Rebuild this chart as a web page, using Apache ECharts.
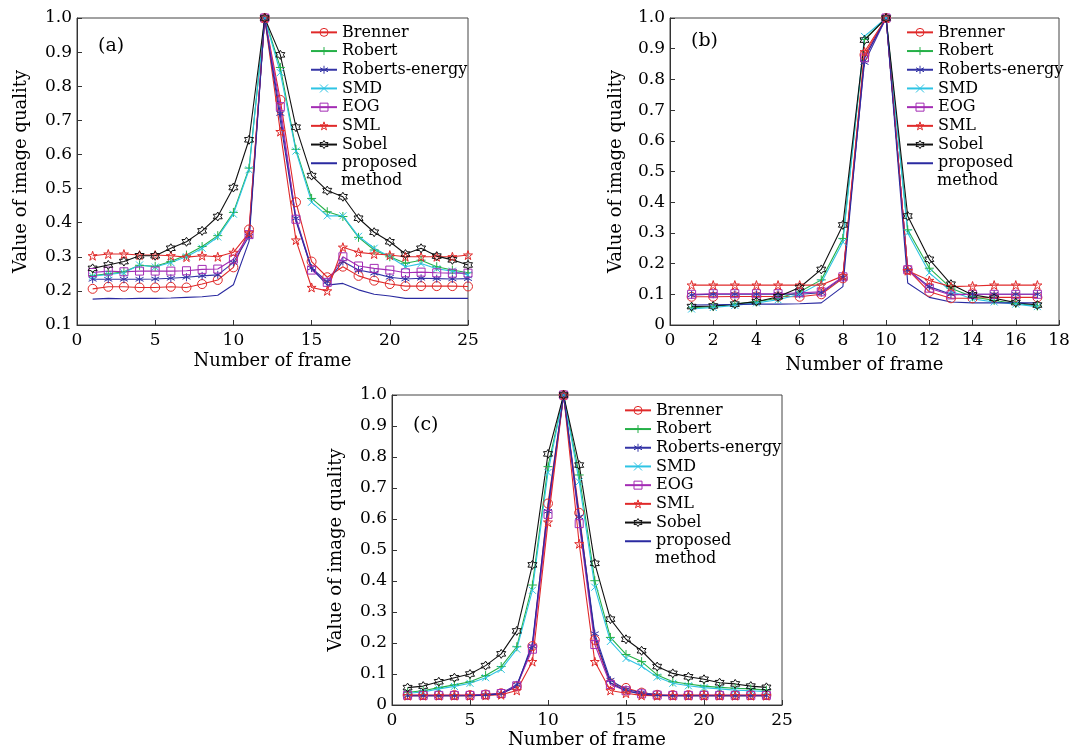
<!DOCTYPE html>
<html>
<head>
<meta charset="utf-8">
<script src="https://cdn.jsdelivr.net/npm/echarts@6/dist/echarts.min.js"></script>
<style>
  html, body { margin: 0; padding: 0; background: #fff; }
  #chart { width: 1074px; height: 751px; }
</style>
</head>
<body>
<div id="chart"></div>
<script>
// frames for each panel
var framesA = [1, 2, 3, 4, 5, 6, 7, 8, 9, 10, 11, 12, 13, 14, 15, 16, 17, 18, 19, 20, 21, 22, 23, 24, 25]
var framesB = [1, 2, 3, 4, 5, 6, 7, 8, 9, 10, 11, 12, 13, 14, 15, 16, 17]
var framesC = [1, 2, 3, 4, 5, 6, 7, 8, 9, 10, 11, 12, 13, 14, 15, 16, 17, 18, 19, 20, 21, 22, 23, 24]

// panel (a)
var brennerA = [0.206, 0.212, 0.212, 0.21, 0.21, 0.212, 0.21, 0.22, 0.232, 0.269, 0.38, 1.0, 0.76, 0.46, 0.286, 0.24, 0.271, 0.244, 0.23, 0.22, 0.214, 0.214, 0.214, 0.214, 0.213]
var robertA = [0.245, 0.25, 0.256, 0.275, 0.272, 0.286, 0.305, 0.33, 0.362, 0.43, 0.56, 1.0, 0.855, 0.615, 0.471, 0.432, 0.418, 0.357, 0.32, 0.30, 0.281, 0.29, 0.271, 0.261, 0.253]
var robertsEnergyA = [0.234, 0.234, 0.234, 0.234, 0.235, 0.237, 0.24, 0.244, 0.247, 0.283, 0.36, 1.0, 0.72, 0.413, 0.267, 0.227, 0.286, 0.261, 0.252, 0.24, 0.235, 0.237, 0.236, 0.235, 0.236]
var smdA = [0.243, 0.248, 0.253, 0.276, 0.27, 0.283, 0.3, 0.325, 0.358, 0.425, 0.555, 1.0, 0.84, 0.61, 0.46, 0.42, 0.42, 0.36, 0.325, 0.30, 0.271, 0.28, 0.265, 0.258, 0.247]
var eogA = [0.254, 0.258, 0.256, 0.258, 0.258, 0.258, 0.259, 0.263, 0.264, 0.293, 0.365, 1.0, 0.74, 0.41, 0.261, 0.225, 0.30, 0.273, 0.266, 0.261, 0.253, 0.255, 0.253, 0.252, 0.252]
var smlA = [0.303, 0.308, 0.308, 0.305, 0.305, 0.303, 0.299, 0.303, 0.30, 0.313, 0.37, 1.0, 0.667, 0.349, 0.21, 0.20, 0.328, 0.313, 0.308, 0.305, 0.30, 0.30, 0.30, 0.30, 0.305]
var sobelA = [0.266, 0.276, 0.286, 0.303, 0.303, 0.325, 0.344, 0.376, 0.418, 0.503, 0.643, 1.0, 0.892, 0.68, 0.538, 0.494, 0.476, 0.413, 0.372, 0.344, 0.308, 0.325, 0.302, 0.291, 0.276]
var proposedA = [0.176, 0.178, 0.177, 0.178, 0.178, 0.179, 0.181, 0.183, 0.187, 0.218, 0.345, 1.0, 0.7, 0.405, 0.266, 0.217, 0.222, 0.203, 0.19, 0.185, 0.178, 0.178, 0.178, 0.178, 0.178]

// panel (b)
var brennerB = [0.092, 0.092, 0.093, 0.093, 0.093, 0.092, 0.10, 0.152, 0.88, 1.0, 0.18, 0.108, 0.087, 0.087, 0.09, 0.09, 0.09]
var robertB = [0.056, 0.06, 0.068, 0.076, 0.087, 0.108, 0.147, 0.282, 0.93, 1.0, 0.31, 0.185, 0.12, 0.092, 0.08, 0.07, 0.062]
var robertsEnergyB = [0.098, 0.10, 0.10, 0.10, 0.10, 0.10, 0.105, 0.155, 0.855, 1.0, 0.18, 0.125, 0.10, 0.10, 0.10, 0.10, 0.10]
var smdB = [0.052, 0.057, 0.064, 0.072, 0.082, 0.10, 0.138, 0.27, 0.94, 1.0, 0.30, 0.17, 0.11, 0.085, 0.075, 0.068, 0.06]
var eogB = [0.10, 0.102, 0.102, 0.102, 0.102, 0.105, 0.108, 0.157, 0.87, 1.0, 0.18, 0.12, 0.098, 0.10, 0.10, 0.10, 0.10]
var smlB = [0.13, 0.13, 0.13, 0.13, 0.13, 0.13, 0.13, 0.16, 0.89, 1.0, 0.177, 0.145, 0.125, 0.127, 0.13, 0.13, 0.13]
var sobelB = [0.06, 0.062, 0.068, 0.076, 0.092, 0.122, 0.181, 0.326, 0.928, 1.0, 0.355, 0.214, 0.133, 0.098, 0.087, 0.073, 0.065]
var proposedB = [0.065, 0.066, 0.067, 0.068, 0.068, 0.069, 0.072, 0.125, 0.87, 1.0, 0.137, 0.09, 0.075, 0.072, 0.072, 0.072, 0.072]

// panel (c)
var brennerC = [0.032, 0.032, 0.032, 0.032, 0.032, 0.034, 0.038, 0.06, 0.19, 0.65, 1.0, 0.62, 0.21, 0.07, 0.055, 0.04, 0.033, 0.032, 0.032, 0.032, 0.032, 0.032, 0.032, 0.032]
var robertC = [0.041, 0.046, 0.056, 0.065, 0.075, 0.095, 0.124, 0.188, 0.387, 0.769, 1.0, 0.742, 0.401, 0.218, 0.163, 0.14, 0.097, 0.075, 0.068, 0.061, 0.057, 0.054, 0.052, 0.048]
var robertsEnergyC = [0.03, 0.03, 0.03, 0.03, 0.031, 0.033, 0.038, 0.065, 0.19, 0.625, 1.0, 0.607, 0.23, 0.08, 0.05, 0.04, 0.033, 0.03, 0.03, 0.03, 0.03, 0.03, 0.03, 0.03]
var smdC = [0.038, 0.042, 0.052, 0.06, 0.07, 0.088, 0.115, 0.18, 0.37, 0.75, 1.0, 0.72, 0.38, 0.205, 0.15, 0.125, 0.09, 0.07, 0.062, 0.056, 0.052, 0.048, 0.046, 0.043]
var eogC = [0.031, 0.031, 0.031, 0.031, 0.031, 0.033, 0.037, 0.062, 0.18, 0.615, 1.0, 0.585, 0.195, 0.066, 0.046, 0.036, 0.032, 0.031, 0.031, 0.031, 0.031, 0.031, 0.031, 0.031]
var smlC = [0.03, 0.03, 0.03, 0.03, 0.03, 0.031, 0.033, 0.047, 0.14, 0.59, 1.0, 0.52, 0.14, 0.047, 0.038, 0.031, 0.03, 0.03, 0.03, 0.03, 0.03, 0.03, 0.03, 0.03]
var sobelC = [0.056, 0.061, 0.075, 0.088, 0.10, 0.127, 0.165, 0.239, 0.452, 0.81, 1.0, 0.774, 0.457, 0.277, 0.212, 0.175, 0.124, 0.102, 0.091, 0.083, 0.072, 0.068, 0.061, 0.057]
var proposedC = [0.03, 0.03, 0.03, 0.03, 0.03, 0.032, 0.036, 0.06, 0.2, 0.64, 1.0, 0.6, 0.22, 0.072, 0.046, 0.035, 0.031, 0.03, 0.03, 0.03, 0.03, 0.03, 0.03, 0.03]

var names = ['Brenner', 'Robert', 'Roberts-energy', 'SMD', 'EOG', 'SML', 'Sobel', 'proposed method']

var FONT = 'DejaVu Serif'

// marker + colour per method
var looks = {
  'Brenner': { color: '#e02a2a', symbol: 'circle', size: 9 },
  'Robert': { color: '#25b048', symbol: 'path://M5,0L5,10M0,5L10,5', size: 9 },
  'Roberts-energy': { color: '#3434a6', symbol: 'path://M5,0L5,10M0.7,2.5L9.3,7.5M9.3,2.5L0.7,7.5', size: 8 },
  'SMD': { color: '#2ec4e4', symbol: 'path://M0,0L10,10M10,0L0,10', size: 7 },
  'EOG': { color: '#a32cb4', symbol: 'rect', size: 8 },
  'SML': { color: '#e02a2a', symbol: 'path://M5,0L6.2,3.6L10,3.6L6.9,5.9L8.1,9.5L5,7.3L1.9,9.5L3.1,5.9L0,3.6L3.8,3.6Z', size: 9 },
  'Sobel': { color: '#111111', symbol: 'path://M5,0L6.4,2.5L9.3,2.5L7.9,5L9.3,7.5L6.4,7.5L5,10L3.6,7.5L0.7,7.5L2.1,5L0.7,2.5L3.6,2.5Z', size: 9 },
  'proposed method': { color: '#2a2aa0', symbol: 'none', size: 0 }
}

function makeSeries(name, frames, values, idx) {
  var lk = looks[name]
  return {
    name: name,
    type: 'line',
    xAxisIndex: idx,
    yAxisIndex: idx,
    data: frames.map(function (f, i) { return [f, values[i]] }),
    symbol: lk.symbol,
    symbolSize: lk.size,
    showAllSymbol: true,
    itemStyle: { color: 'rgba(0,0,0,0)', borderColor: lk.color, borderWidth: 1 },
    lineStyle: { color: lk.color, width: 1.1 },
    emphasis: { disabled: true },
    animation: false
  }
}

var panels = [
  [framesA, [brennerA, robertA, robertsEnergyA, smdA, eogA, smlA, sobelA, proposedA]],
  [framesB, [brennerB, robertB, robertsEnergyB, smdB, eogB, smlB, sobelB, proposedB]],
  [framesC, [brennerC, robertC, robertsEnergyC, smdC, eogC, smlC, sobelC, proposedC]]
]

var series = []
panels.forEach(function (p, idx) {
  names.forEach(function (n, k) {
    series.push(makeSeries(n, p[0], p[1][k], idx))
  })
})

function xAxis(idx, max, interval, gap) {
  return {
    type: 'value', gridIndex: idx, min: 0, max: max, interval: interval,
    name: 'Number of frame', nameLocation: 'middle', nameGap: gap,
    nameTextStyle: { fontFamily: FONT, fontSize: 18, color: '#000' },
    axisLine: { lineStyle: { color: '#333' } },
    axisTick: { inside: true, length: 5, lineStyle: { color: '#333' } },
    axisLabel: { fontFamily: FONT, fontSize: 17, color: '#000', margin: 7 },
    splitLine: { show: false }
  }
}

function yAxis(idx, min, gap) {
  return {
    type: 'value', gridIndex: idx, min: min, max: 1, interval: 0.1,
    name: 'Value of image quality', nameLocation: 'middle', nameGap: gap, nameRotate: 90,
    nameTextStyle: { fontFamily: FONT, fontSize: 18, color: '#000' },
    axisLine: { lineStyle: { color: '#333' } },
    axisTick: { inside: true, length: 5, lineStyle: { color: '#333' } },
    axisLabel: {
      fontFamily: FONT, fontSize: 17, color: '#000', margin: 5,
      formatter: function (v) { return Math.abs(v) < 1e-9 ? '0' : v.toFixed(1) }
    },
    splitLine: { show: false }
  }
}

// legend entries keep hollow markers; the last one is a bare line
var legendData = names.map(function (n) {
  var c = looks[n].color
  if (n === 'proposed method') {
    return { name: n, itemStyle: { color: 'rgba(0,0,0,0)', borderColor: 'rgba(0,0,0,0)', borderWidth: 0 } }
  }
  return { name: n, itemStyle: { color: 'rgba(0,0,0,0)', borderColor: c, borderWidth: 1 } }
})

function legend(left, top) {
  return {
    orient: 'vertical', left: left, top: top,
    data: legendData, itemWidth: 26, itemHeight: 10, itemGap: 0,
    padding: 0,
    selectedMode: false,
    formatter: function (n) { return n === 'proposed method' ? 'proposed' : n },
    textStyle: { fontFamily: FONT, fontSize: 16, color: '#000', lineHeight: 18.7 }
  }
}

function label(x, y, text, size) {
  return {
    type: 'text', left: x, top: y,
    style: { text: text, font: size + 'px "DejaVu Serif"', fill: '#000' }
  }
}

var myChart = echarts.init(document.getElementById('chart'))
var option = {
  backgroundColor: '#fff',
  animation: false,
  grid: [
    { left: 77, top: 18, width: 391, height: 307, show: true, borderColor: '#444', borderWidth: 1 },
    { left: 670, top: 18, width: 389, height: 307, show: true, borderColor: '#444', borderWidth: 1 },
    { left: 392, top: 395, width: 390, height: 310, show: true, borderColor: '#444', borderWidth: 1 }
  ],
  xAxis: [xAxis(0, 25, 5, 27), xAxis(1, 18, 2, 31), xAxis(2, 25, 5, 26)],
  yAxis: [yAxis(0, 0.1, 47), yAxis(1, 0, 45), yAxis(2, 0, 47)],
  legend: [legend(310, 23), legend(906, 23), legend(624, 401)],
  graphic: [
    label(98, 37, '(a)', 19),
    label(691, 32, '(b)', 19),
    label(413, 416, '(c)', 19),
    label(341, 173, 'method', 16),
    label(937, 173, 'method', 16),
    label(655, 551, 'method', 16)
  ],
  series: series
}
myChart.setOption(option)
</script>
</body>
</html>
